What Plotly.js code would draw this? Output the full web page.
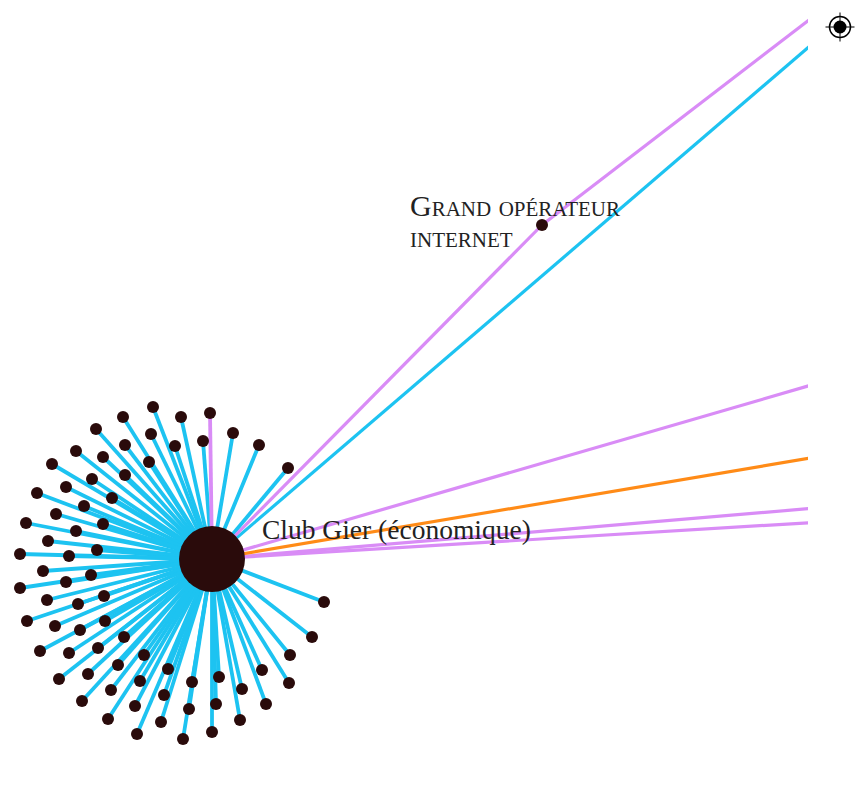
<!DOCTYPE html>
<html>
<head>
<meta charset="utf-8">
<script src="https://cdn.plot.ly/plotly-3.0.1.min.js"></script>
<style>html,body{margin:0;padding:0;background:#fff;}#chart{width:856px;height:788px;}</style>
</head>
<body>
<div id="chart"></div>
<script>
// Hub of the network
const hubName = 'Club Gier (économique)';
const hubX = [0];
const hubY = [0];

// Other named / outside actors (index 0 = Grand opérateur internet, others beyond the frame)
const actorName = ['Grand opérateur internet', 'ext A', 'ext B', 'ext C', 'ext D', 'ext E'];
const actorX = [330, 894, 889, 889, 889, 889];
const actorY = [334, 767, 258, 150, 75, 54];
const actorShown = [true, false, false, false, false, false];

// Ties between hub (-1) / actors (0..5)
const tieFrom = [-1, -1, 0, -1, -1, -1, -1];
const tieTo   = [0, 1, 1, 2, 3, 4, 5];
const tieKind = ['violet', 'eco', 'violet', 'violet', 'orange', 'violet', 'violet'];

// Members linked to the hub
const memberX = [-59,-89,-31,-2,-116,-61,-87,-37,-9,21,47,76,-136,-109,-63,-160,-87,-120,-146,-175,-100,-128,-156,-109,-186,-136,-164,-115,-192,-143,-169,-121,-192,-146,-108,-165,-134,-185,-157,-107,-132,-88,-172,-143,-114,-68,-153,-124,-94,-44,-72,-20,7,50,78,100,112,77,30,-130,-101,-48,-77,-23,4,54,-104,-51,28,-75,-29,0];
const memberY = [152,142,142,146,130,125,114,113,118,126,114,91,108,102,97,95,84,80,72,66,61,53,45,35,36,28,18,9,5,3,-12,-16,-29,-23,-37,-41,-45,-62,-67,-62,-71,-78,-92,-94,-89,-96,-120,-115,-106,-110,-122,-123,-118,-111,-96,-78,-43,-124,-130,-142,-131,-136,-147,-150,-145,-145,-160,-163,-161,-175,-180,-173];
const memberTie = memberX.map((_, i) => i === 3 ? 'violet' : 'eco');

const tieColor = { eco: '#1dc3f1', violet: '#d98cf6', orange: '#ff8b17' };
const nodeColor = '#2a0b0b';

function pos(idx) {
  if (idx === -1) return [hubX[0], hubY[0]];
  return [actorX[idx], actorY[idx]];
}

const traces = [];
// spokes from hub to members, grouped by kind
['eco', 'violet'].forEach(kind => {
  const xs = [], ys = [];
  memberX.forEach((mx, i) => {
    if (memberTie[i] !== kind) return;
    xs.push(hubX[0], mx, null);
    ys.push(hubY[0], memberY[i], null);
  });
  traces.push({ type: 'scatter', mode: 'lines', x: xs, y: ys, hoverinfo: 'skip',
    line: { color: tieColor[kind], width: 3.8 } });
});
// long ties
['eco', 'violet', 'orange'].forEach(kind => {
  const xs = [], ys = [];
  tieFrom.forEach((f, i) => {
    if (tieKind[i] !== kind) return;
    const a = pos(f), b = pos(tieTo[i]);
    xs.push(a[0], b[0], null);
    ys.push(a[1], b[1], null);
  });
  traces.push({ type: 'scatter', mode: 'lines', x: xs, y: ys, hoverinfo: 'skip',
    line: { color: tieColor[kind], width: 3.2 } });
});
// member nodes
traces.push({ type: 'scatter', mode: 'markers', x: memberX, y: memberY, hoverinfo: 'skip',
  marker: { color: nodeColor, size: 12, line: { width: 0 } } });
// actors shown
traces.push({ type: 'scatter', mode: 'markers',
  x: actorX.filter((_, i) => actorShown[i]), y: actorY.filter((_, i) => actorShown[i]),
  hoverinfo: 'skip', marker: { color: nodeColor, size: 12, line: { width: 0 } } });
// hub
traces.push({ type: 'scatter', mode: 'markers', x: hubX, y: hubY, hoverinfo: 'skip',
  marker: { color: nodeColor, size: 66, line: { width: 0 } } });

const serif = 'Liberation Serif, DejaVu Serif, serif';
const cx = 840 / 808, cy = 1 - 27 / 788;
const shapeBase = { xref: 'paper', yref: 'paper', xsizemode: 'pixel', ysizemode: 'pixel', xanchor: cx, yanchor: cy };

const layout = {
  width: 856, height: 788,
  margin: { l: 0, r: 48, t: 0, b: 0, pad: 0 },
  paper_bgcolor: '#ffffff', plot_bgcolor: '#ffffff',
  showlegend: false,
  xaxis: { range: [-212, 596], visible: false, showgrid: false, zeroline: false, fixedrange: true },
  yaxis: { range: [-229, 559], visible: false, showgrid: false, zeroline: false, fixedrange: true },
  annotations: [
    { x: hubX[0], y: hubY[0], xref: 'x', yref: 'y', text: hubName, showarrow: false,
      xanchor: 'left', yanchor: 'middle', xshift: 48, yshift: 30,
      font: { family: serif, size: 27.5, color: '#222222' } },
    { x: actorX[0], y: actorY[0], xref: 'x', yref: 'y', text: 'Grand opérateur', showarrow: false,
      xanchor: 'left', yanchor: 'middle', xshift: -134, yshift: 20,
      font: { family: serif, size: 30, color: '#222222', variant: 'small-caps' } },
    { x: actorX[0], y: actorY[0], xref: 'x', yref: 'y', text: 'internet', showarrow: false,
      xanchor: 'left', yanchor: 'middle', xshift: -134, yshift: -11,
      font: { family: serif, size: 30, color: '#222222', variant: 'small-caps' } }
  ],
  shapes: [
    Object.assign({}, shapeBase, { type: 'circle', x0: -10.5, x1: 10.5, y0: -10.5, y1: 10.5, line: { color: '#000', width: 1.5 } }),
    Object.assign({}, shapeBase, { type: 'circle', x0: -6.5, x1: 6.5, y0: -6.5, y1: 6.5, fillcolor: '#000', line: { color: '#000', width: 0 } }),
    Object.assign({}, shapeBase, { type: 'line', x0: -14.5, x1: 14.5, y0: 0, y1: 0, line: { color: '#000', width: 1 } }),
    Object.assign({}, shapeBase, { type: 'line', x0: 0, x1: 0, y0: -14.5, y1: 14.5, line: { color: '#000', width: 1 } })
  ]
};

Plotly.newPlot('chart', traces, layout, { displayModeBar: false, staticPlot: true });
</script>
</body>
</html>
